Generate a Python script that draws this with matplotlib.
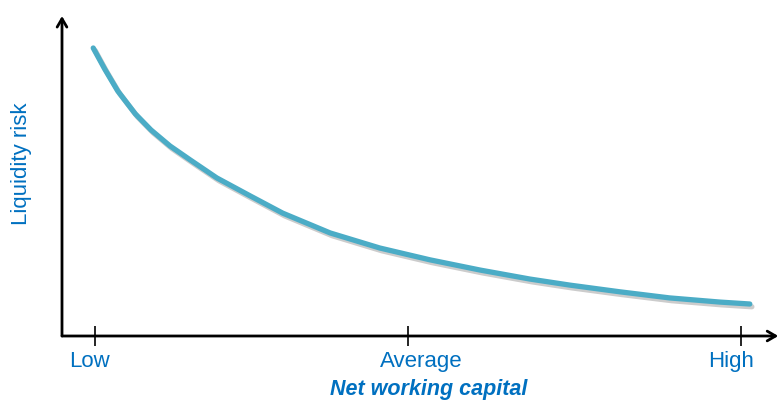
import matplotlib
matplotlib.use("Agg")
import matplotlib.pyplot as plt
import matplotlib.patheffects as pe

# Liquidity risk as a function of net working capital
capital = [4.6, 6.3, 8.2, 10.8, 13.1, 15.9, 18.9, 22.8, 27.7, 32.5, 39.5,
           46.8, 54.2, 61.6, 68.9, 74.8, 82.2, 89.5, 96.9, 101.3]
risk = [90.0, 83.4, 76.6, 69.4, 64.4, 59.4, 55.0, 49.4, 43.8, 38.4, 32.2,
        27.5, 23.8, 20.6, 17.8, 15.9, 13.8, 11.9, 10.6, 10.0]

tick_positions = [4.9, 51.0, 100.0]
tick_labels = ["Low", "Average", "High"]

TEXT_BLUE = "#0070C0"
LINE_BLUE = "#4BACC6"

W, H = 779, 404
fig = plt.figure(figsize=(W / 100, H / 100), dpi=100)
ax = fig.add_axes([62 / W, 68 / H, 717 / W, 320 / H])
ax.set_xlim(0, 105.6)
ax.set_ylim(0, 100)
for s in ax.spines.values():
    s.set_visible(False)
ax.set_yticks([])
ax.set_xticks(tick_positions)
ax.set_xticklabels([])
ax.tick_params(axis="x", direction="inout", length=15, width=1.2, color="black")

# axes drawn as arrows
arrow = dict(arrowstyle="->,head_length=0.6,head_width=0.35", lw=2.0, color="black",
             shrinkA=0, shrinkB=0)
ax.annotate("", xy=(0, 1.0), xytext=(0, 0), xycoords="axes fraction",
            textcoords="axes fraction", arrowprops=arrow, annotation_clip=False)
ax.annotate("", xy=(0.999, 0), xytext=(0, 0), xycoords="axes fraction",
            textcoords="axes fraction", arrowprops=arrow, annotation_clip=False)

ax.plot(capital, risk, color=LINE_BLUE, lw=3.8, solid_capstyle="round",
        solid_joinstyle="round", clip_on=False,
        path_effects=[pe.SimpleLineShadow(offset=(1.5, -2), shadow_color="gray",
                                          alpha=0.4), pe.Normal()])

# category labels under the ticks
label_x = [4.1, 52.9, 98.5]
for x, t in zip(label_x, tick_labels):
    ax.text(x, -8.1, t, ha="center", va="center", fontsize=16,
            family="Liberation Sans", color=TEXT_BLUE, clip_on=False)

fig.text(429 / W, 1 - 390 / H, "Net working capital", ha="center", va="center",
         fontsize=15.5, family="Liberation Sans", fontweight="bold",
         fontstyle="italic", color=TEXT_BLUE)
fig.text(22 / W, 1 - 164 / H, "Liquidity risk", ha="center", va="center",
         rotation=90, fontsize=16, family="Liberation Sans", color=TEXT_BLUE)

fig.savefig("out.png", dpi=100)
